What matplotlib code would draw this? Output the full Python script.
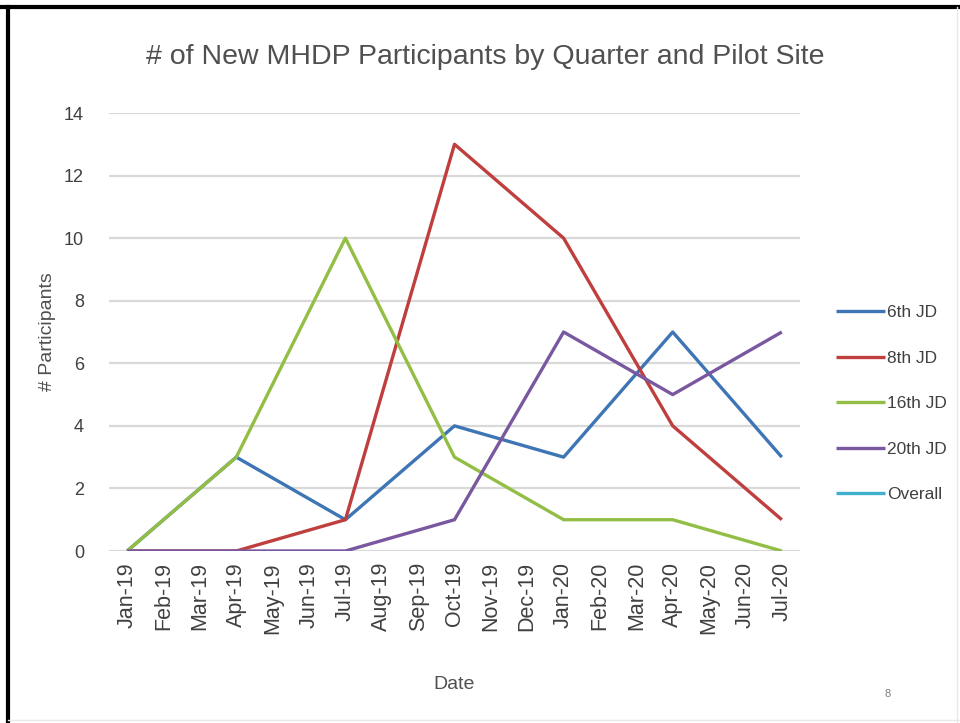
import matplotlib.pyplot as plt
import numpy as np
from matplotlib import font_manager

# === Data ===
months = ["Jan-19", "Feb-19", "Mar-19", "Apr-19", "May-19", "Jun-19", "Jul-19",
          "Aug-19", "Sep-19", "Oct-19", "Nov-19", "Dec-19", "Jan-20", "Feb-20",
          "Mar-20", "Apr-20", "May-20", "Jun-20", "Jul-20"]
quarters = ["Jan-19", "Apr-19", "Jul-19", "Oct-19", "Jan-20", "Apr-20", "Jul-20"]

jd6 = [0, 3, 1, 4, 3, 7, 3]
jd8 = [0, 0, 1, 13, 10, 4, 1]
jd16 = [0, 3, 10, 3, 1, 1, 0]
jd20 = [0, 0, 0, 1, 7, 5, 7]
overall = [np.nan] * 7

series = [("6th JD", jd6, "#3E75B5"),
          ("8th JD", jd8, "#BE3F3D"),
          ("16th JD", jd16, "#93BE45"),
          ("20th JD", jd20, "#7A58A0"),
          ("Overall", overall, "#3FB1CC")]

# pick a narrow font if there is one
names = {f.name for f in font_manager.fontManager.ttflist}
fam = "Liberation Sans Narrow" if "Liberation Sans Narrow" in names else "Liberation Sans"
plt.rcParams["font.family"] = [fam, "DejaVu Sans"]

fig = plt.figure(figsize=(9.6, 7.23), dpi=100)
ax = fig.add_axes([109 / 960, 1 - 551 / 723, (800 - 109) / 960, (551 - 113) / 723])

xq = [months.index(q) for q in quarters]
for name, vals, col in series:
    ax.plot(xq, vals, color=col, lw=2.4, label=name, solid_capstyle="butt")

ax.set_xlim(-0.5, len(months) - 0.5)
ax.set_ylim(0, 14)
ax.set_yticks(range(0, 15, 2))
ax.set_xticks(range(len(months)))
ax.set_xticklabels(months, rotation=90, fontsize=15.5, color="#404040")
ax.tick_params(axis="y", labelsize=13, labelcolor="#404040", length=0, pad=18)
ax.tick_params(axis="x", length=0, pad=8)
ax.grid(axis="y", color="#D9D9D9", lw=1.6)
ax.set_axisbelow(True)
for s in ax.spines.values():
    s.set_visible(False)

ax.set_ylabel("# Participants", fontsize=14, color="#505050", labelpad=6)
ax.set_xlabel("Date", fontsize=14, color="#505050", labelpad=30)

fig.text(0.505, 1 - 57 / 723, "# of New MHDP Participants by Quarter and Pilot Site",
         ha="center", va="center", fontsize=20.5, color="#505050")

leg = ax.legend(loc="center left", bbox_to_anchor=(1.03, 0.336), frameon=False,
                fontsize=12.5, handlelength=2.8, handletextpad=0.1, labelspacing=1.75,
                labelcolor="#404040")

fig.text(888 / 960, 1 - 694 / 723, "8", fontsize=8, color="#808080", ha="center", va="center")

# slide frame
fig.add_artist(plt.Line2D([0, 1], [1 - 7 / 723] * 2, color="black", lw=3, transform=fig.transFigure))
fig.add_artist(plt.Line2D([8 / 960] * 2, [0, 1 - 7 / 723], color="black", lw=3, transform=fig.transFigure))
fig.add_artist(plt.Line2D([957 / 960] * 2, [0, 1 - 7 / 723], color="#E8E8E8", lw=1, transform=fig.transFigure))
fig.add_artist(plt.Line2D([8 / 960, 1], [3 / 723] * 2, color="#E8E8E8", lw=1, transform=fig.transFigure))

fig.savefig("out.png", dpi=100)
